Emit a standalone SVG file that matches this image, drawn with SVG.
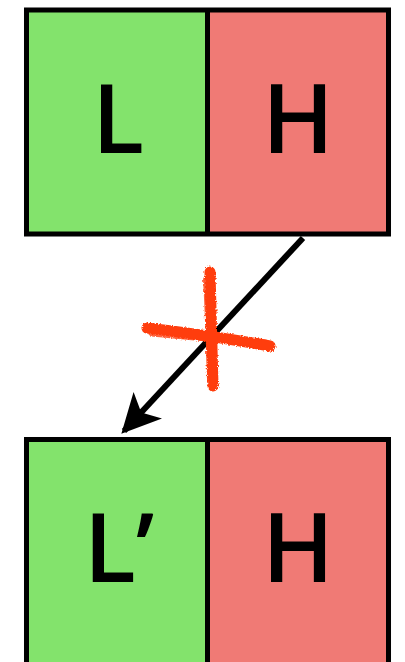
<svg xmlns="http://www.w3.org/2000/svg" width="405" height="662" viewBox="0 0 405 662">
<style>
.box{stroke:#000;stroke-width:5;}
.lo{fill:#83e36c;}
.hi{fill:#f07a75;}
.lbl{font-family:"Open Sans","Lato",sans-serif;font-size:96px;font-weight:600;fill:#000;text-anchor:middle;}
.x{stroke:#ff3d0d;stroke-linecap:round;fill:none;}
</style>
<defs>
<marker id="ah" viewBox="0 0 10 10" refX="9" refY="5" markerWidth="6.5" markerHeight="6.5" markerUnits="strokeWidth" orient="auto">
<path d="M0,0 L10,5 L0,10 L2.5,5 Z" fill="#000"/>
</marker>
<filter id="rough" x="-20%" y="-20%" width="140%" height="140%">
<feTurbulence type="fractalNoise" baseFrequency="0.6" numOctaves="2" seed="3"/>
<feDisplacementMap in="SourceGraphic" scale="4"/>
</filter>
<filter id="sh" x="-5%" y="-5%" width="110%" height="110%">
<feGaussianBlur stdDeviation="1.5"/>
</filter>
</defs>
<g id="top">
<rect x="26.5" y="10" width="362" height="224" fill="#bbb" filter="url(#sh)"/>
<rect class="lo" x="26.5" y="10" width="181" height="224"/>
<rect class="hi" x="207.5" y="10" width="181" height="224"/>
<rect class="box" x="26.5" y="10" width="362" height="224" fill="none"/>
<line class="box" x1="207.5" y1="10" x2="207.5" y2="234"/>
<text class="lbl" x="118" y="153">L</text>
<text class="lbl" x="298" y="153">H</text>
</g>
<g id="bottom">
<rect x="26.5" y="439.5" width="362" height="230" fill="#bbb" filter="url(#sh)"/>
<rect class="lo" x="26.5" y="439.5" width="181" height="230"/>
<rect class="hi" x="207.5" y="439.5" width="181" height="230"/>
<rect class="box" x="26.5" y="439.5" width="362" height="230" fill="none"/>
<line class="box" x1="207.5" y1="439.5" x2="207.5" y2="662"/>
<text class="lbl" x="119" y="582">L’</text>
<text class="lbl" x="298" y="582">H</text>
</g>
<g id="connectors">
<line x1="303" y1="238" x2="124" y2="431" stroke="#000" stroke-width="6" marker-end="url(#ah)"/>
</g>
<g id="cross" filter="url(#rough)">
<path class="x" d="M210,272 C211,300 212,340 213,386" stroke-width="11"/>
<path class="x" d="M207,280 C209,310 210,350 211,380" stroke-width="8" opacity="0.8"/>
<path class="x" d="M147,328 C190,333 230,339 270,346" stroke-width="11"/>
<path class="x" d="M152,333 C195,337 235,341 265,343" stroke-width="7" opacity="0.8"/>
</g>
</svg>
